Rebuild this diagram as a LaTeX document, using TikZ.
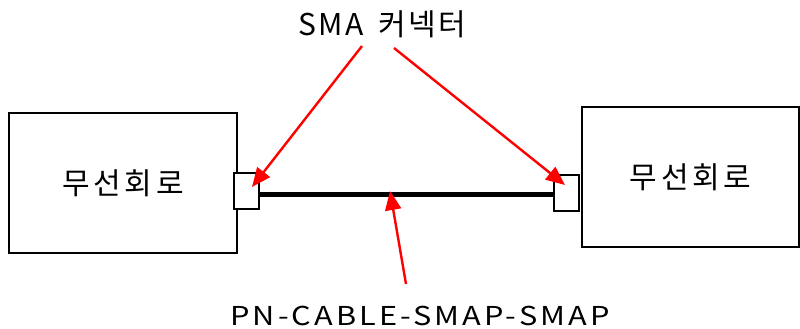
\documentclass[tikz,border=0pt]{standalone}
\usepackage{fontspec}
\setmainfont{Noto Sans CJK KR}
\usetikzlibrary{arrows.meta}
\begin{document}
\begin{tikzpicture}[x=1pt,y=-1pt,
  block/.style={draw=black,line width=2pt},
  conn/.style={draw=black,line width=1.6pt,fill=white},
  pointer/.style={draw=red,line width=2.4pt,-{Triangle[length=19pt,width=16pt]}},
  lbl/.style={font=\fontsize{30}{34}\selectfont,inner sep=0pt}]
\useasboundingbox (0,0) rectangle (800,329);
\node[block,minimum width=228pt,minimum height=140pt,anchor=north west,inner sep=0pt] (lb) at (8,112) {};
\node[block,minimum width=217pt,minimum height=140pt,anchor=north west,inner sep=0pt] (rb) at (581,106) {};
\node[lbl,font=\fontsize{30}{34}\selectfont\addfontfeature{LetterSpace=12}] (lt) at (lb.center) {무선회로};
\node[lbl,font=\fontsize{30}{34}\selectfont\addfontfeature{LetterSpace=12}] (rt) at (rb.center) {무선회로};
\node[conn,minimum width=25pt,minimum height=36pt,anchor=north west,inner sep=0pt] (lc) at (233,172) {};
\node[conn,minimum width=25pt,minimum height=36pt,anchor=north west,inner sep=0pt] (rc) at (553,174) {};
\draw[line width=5pt] (lc.east |- 0,194.5) -- (rc.west |- 0,194.5);
\node[lbl,font=\fontsize{30}{34}\selectfont\addfontfeature{LetterSpace=8}] (top) at (382,24) {SMA\hspace{6pt} 커넥터};
\node[lbl,xscale=1.18,font=\fontsize{26}{30}\selectfont\addfontfeature{LetterSpace=10}] (bot) at (420,316) {PN-CABLE-SMAP-SMAP};
\coordinate (la) at (362,46);
\coordinate (ra) at (394,48);
\coordinate (ba) at (406,284);
\coordinate (lt1) at (252,187);
\coordinate (rt1) at (565,185);
\coordinate (bt1) at (390,191);
\draw[pointer] (la) -- (lt1);
\draw[pointer] (ra) -- (rt1);
\draw[pointer] (ba) -- (bt1);
\end{tikzpicture}
\end{document}
